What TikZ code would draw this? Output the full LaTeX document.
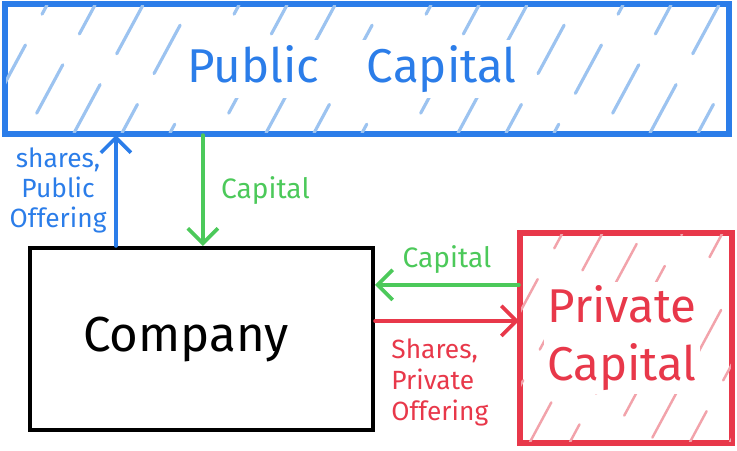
\documentclass[tikz,border=0pt]{standalone}
\usepackage{fontspec}
\setmainfont{Fira Sans}
\usetikzlibrary{arrows.meta, positioning, calc}
\definecolor{pubblue}{HTML}{2B7DE9}
\definecolor{hatchblue}{HTML}{9CC3F0}
\definecolor{capgreen}{HTML}{4CC95A}
\definecolor{privred}{HTML}{E8384A}
\definecolor{hatchred}{HTML}{F2A3AB}

\tikzset{
  box/.style={draw, line width=2.4pt, inner sep=0pt},
  flow/.style={line width=2.1pt, line cap=round, -{Straight Barb[length=3mm, width=6mm]}},
  hatch/.style={line width=1.8pt, line cap=round, dash pattern=on 1.1cm off 0.7cm}
}

\begin{document}
\begin{tikzpicture}[x=0.02cm, y=-0.02cm]

% Canvas
\useasboundingbox (0,0) rectangle (737,450);

% Boxes
\node[box, pubblue, minimum width=14.44cm, minimum height=2.56cm] (public) at (367,69) {};
\node[box, black, minimum width=6.86cm, minimum height=3.64cm] (company) at (201.5,339) {};
\node[box, privred, minimum width=4.2cm, minimum height=4.16cm] (private) at (626,338) {};

% Hatching
\begin{scope}
\clip (public.south west) rectangle (public.north east);
\foreach \hx [count=\k] in {-70,-22,...,740}
  \draw[hatch, hatchblue, dash phase=\k*0.45cm] (\hx,133) -- ++(69,-128);
\end{scope}
\begin{scope}
\clip (private.south west) rectangle (private.north east);
\foreach \hx [count=\k] in {410,450,...,740}
  \draw[hatch, hatchred, line width=1.4pt, dash phase=\k*0.5cm] (\hx,442) -- ++(112,-208);
\end{scope}
\draw[pubblue, line width=2.4pt] (public.south west) rectangle (public.north east);
\draw[privred, line width=2.4pt] (private.south west) rectangle (private.north east);

% Box titles
\node[text=pubblue, fill=white, font=\fontsize{27}{30}\selectfont, inner sep=3pt] (pubtitle) at (352,69) {Public\quad Capital};
\node[text=black, font=\fontsize{28}{30}\selectfont] (comptitle) at (186,339) {Company};
\node[text=privred, fill=white, font=\fontsize{27}{33}\selectfont, align=center, inner sep=2pt] (privtitle) at (622,338) {Private\\Capital};

% Flows between company and public capital
\draw[flow, pubblue] ([xshift=1.76cm]company.north west) -- ([xshift=1.76cm]company.north west |- public.south)
  node[pos=0.5, left=1pt, text=pubblue, font=\fontsize{15}{17}\selectfont, align=center] (publabel) {shares,\\Public\\Offering};
\draw[flow, capgreen] ([xshift=3.5cm]company.north west |- public.south) -- ([xshift=3.5cm]company.north west)
  node[pos=0.5, right=6pt, text=capgreen, font=\fontsize{16}{18}\selectfont] (pubcap) {Capital};

% Flows between company and private capital
\draw[flow, capgreen] ([yshift=-1.06cm]private.north west) -- ([yshift=-1.06cm]private.north west -| company.east)
  node[pos=0.5, above=2pt, text=capgreen, font=\fontsize{16}{18}\selectfont] (privcap) {Capital};
\draw[flow, privred] ([yshift=-1.78cm]private.north west -| company.east) -- ([yshift=-1.78cm]private.north west)
  node[pos=0.45, below=6pt, text=privred, font=\fontsize{15}{17.5}\selectfont, align=left] (privlabel) {Shares,\\Private\\Offering};

\end{tikzpicture}
\end{document}
